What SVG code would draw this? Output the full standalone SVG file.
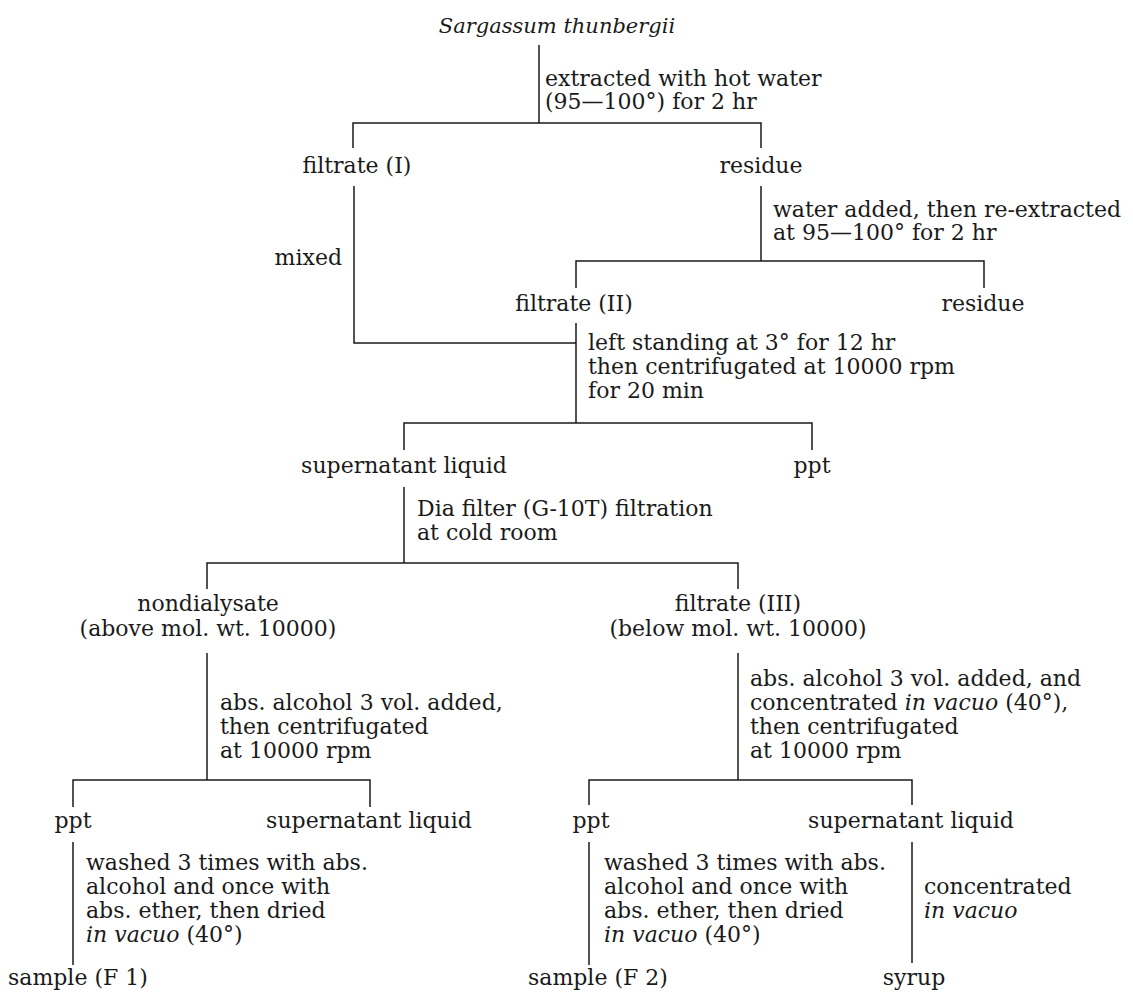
<svg xmlns="http://www.w3.org/2000/svg" width="1133" height="992" viewBox="0 0 1133 992">
<style>
text{font-family:"DejaVu Serif","Liberation Serif",serif;font-size:22px;fill:#1a1a1a}
.c{text-anchor:middle}
.e{text-anchor:end}
.i{font-style:italic}
.ln{fill:none;stroke:#1a1a1a;stroke-width:1.5}
</style>
<rect width="1133" height="992" fill="#fff"/>
<g id="connectors">
<path class="ln" d="M539,45 V123"/>
<path class="ln" d="M353,148 V123 H761 V148"/>
<path class="ln" d="M354,186 V343 H576"/>
<path class="ln" d="M761,186 V261"/>
<path class="ln" d="M576,288 V261 H984 V288"/>
<path class="ln" d="M576,323 V423"/>
<path class="ln" d="M404,450 V423 H812 V450"/>
<path class="ln" d="M404,487 V563"/>
<path class="ln" d="M207,589 V563 H738 V589"/>
<path class="ln" d="M207,653 V780"/>
<path class="ln" d="M73,807 V780 H370 V807"/>
<path class="ln" d="M73,842 V965"/>
<path class="ln" d="M738,653 V780"/>
<path class="ln" d="M589,805 V780 H912 V805"/>
<path class="ln" d="M589,842 V965"/>
<path class="ln" d="M912,842 V963"/>
</g>
<g id="edge-labels">
<text x="545" y="86">extracted with hot water</text>
<text x="545" y="109">(95—100°) for 2 hr</text>
<text x="342" y="265" class="e">mixed</text>
<text x="773" y="217">water added, then re-extracted</text>
<text x="773" y="240">at 95—100° for 2 hr</text>
<text x="588" y="350">left standing at 3° for 12 hr</text>
<text x="588" y="374">then centrifugated at 10000 rpm</text>
<text x="588" y="398">for 20 min</text>
<text x="417" y="516">Dia filter (G-10T) filtration</text>
<text x="417" y="540">at cold room</text>
<text x="220" y="710">abs. alcohol 3 vol. added,</text>
<text x="220" y="734">then centrifugated</text>
<text x="220" y="758">at 10000 rpm</text>
<text x="750" y="686">abs. alcohol 3 vol. added, and</text>
<text x="750" y="710">concentrated <tspan class="i">in vacuo</tspan> (40°),</text>
<text x="750" y="734">then centrifugated</text>
<text x="750" y="758">at 10000 rpm</text>
<text x="86" y="870">washed 3 times with abs.</text>
<text x="86" y="894">alcohol and once with</text>
<text x="86" y="918">abs. ether, then dried</text>
<text x="86" y="942"><tspan class="i">in vacuo</tspan> (40°)</text>
<text x="604" y="870">washed 3 times with abs.</text>
<text x="604" y="894">alcohol and once with</text>
<text x="604" y="918">abs. ether, then dried</text>
<text x="604" y="942"><tspan class="i">in vacuo</tspan> (40°)</text>
<text x="924" y="894">concentrated</text>
<text x="924" y="918" class="i">in vacuo</text>
</g>
<g id="n-sargassum"><text x="557" y="33" class="c i" style="font-size:21px">Sargassum thunbergii</text></g>
<g id="n-filtrate1"><text x="357" y="173" class="c">filtrate (I)</text></g>
<g id="n-residue1"><text x="761" y="173" class="c">residue</text></g>
<g id="n-filtrate2"><text x="574" y="311" class="c">filtrate (II)</text></g>
<g id="n-residue2"><text x="983" y="311" class="c">residue</text></g>
<g id="n-supernatant1"><text x="404" y="473" class="c">supernatant liquid</text></g>
<g id="n-ppt1"><text x="812" y="473" class="c">ppt</text></g>
<g id="n-nondialysate"><text x="208" y="611" class="c">nondialysate</text><text x="208" y="636" class="c">(above mol. wt. 10000)</text></g>
<g id="n-filtrate3"><text x="738" y="611" class="c">filtrate (III)</text><text x="738" y="636" class="c">(below mol. wt. 10000)</text></g>
<g id="n-ppt2"><text x="73" y="828" class="c">ppt</text></g>
<g id="n-supernatant2"><text x="369" y="828" class="c">supernatant liquid</text></g>
<g id="n-ppt3"><text x="591" y="828" class="c">ppt</text></g>
<g id="n-supernatant3"><text x="911" y="828" class="c">supernatant liquid</text></g>
<g id="n-sample1"><text x="8" y="985">sample (F 1)</text></g>
<g id="n-sample2"><text x="528" y="985">sample (F 2)</text></g>
<g id="n-syrup"><text x="914" y="985" class="c">syrup</text></g>
</svg>
